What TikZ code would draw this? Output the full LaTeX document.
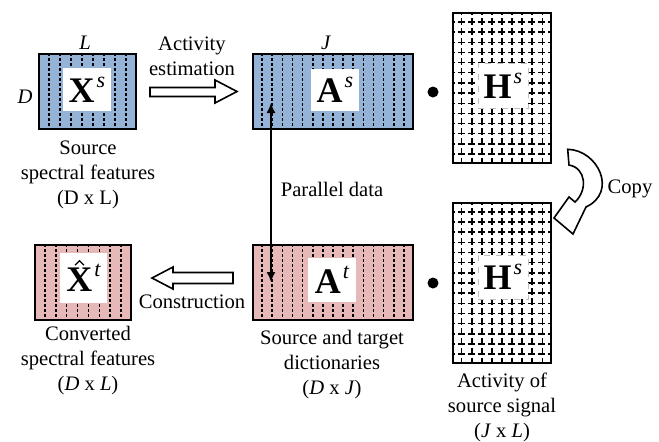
\documentclass[tikz,border=0pt]{standalone}
\usepackage{fontspec}
\setmainfont{Liberation Serif}
\usetikzlibrary{arrows.meta,calc}
\definecolor{srcblue}{HTML}{95B3D7}
\definecolor{tgtpink}{HTML}{E6B9B8}
\newcommand{\matsym}[2]{{\fontsize{18}{18}\selectfont\textbf{#1}\kern1pt\raisebox{0.42em}{\fontsize{11}{11}\selectfont\itshape #2}}}

\begin{document}
\begin{tikzpicture}[x=0.5pt,y=-0.5pt,line width=0.8pt,
  mat/.style={draw,line width=1pt,inner sep=0,minimum height=37.5pt},
  actmat/.style={draw,line width=1.3pt,inner sep=0,minimum width=49pt},
  inbox/.style={fill=white,inner sep=0},
  colline/.style={line width=0.8pt,dash pattern=on 1.5pt off 1pt},
  gridline/.style={line width=0.7pt,dash pattern=on 3.5pt off 1.5pt,dash phase=1.75pt},
  lbl/.style={font=\fontsize{10.3}{12.5}\selectfont,align=center},
  dotop/.style={circle,fill,inner sep=0,minimum size=5.5pt},
  hollow/.style={draw,line width=0.8pt,fill=white,line join=miter}]
  \useasboundingbox (0,0) rectangle (659,441);

  % spectra and dictionaries
  \node[mat,fill=srcblue,minimum width=48.5pt] (Xs) at (87.5,91.5) {};
  \node[mat,fill=srcblue,minimum width=80pt] (As) at (333,91.5) {};
  \node[mat,fill=tgtpink,minimum width=48pt] (Xt) at (83,282.5) {};
  \node[mat,fill=tgtpink,minimum width=80pt] (At) at (333,282.5) {};
  \foreach \m/\n/\d in {Xs/8/9,Xt/8/9,As/15/16,At/15/16}
    \foreach \k in {1,...,\n}
      \draw[colline] ($(\m.north west)!\k/\d!(\m.north east)$) -- ($(\m.south west)!\k/\d!(\m.south east)$);
  \node[inbox,minimum width=24pt,minimum height=21.5pt] (XsIn) at (87,89.5) {\matsym{X}{s}};
  \node[inbox,minimum width=24pt,minimum height=21pt] (AsIn) at (335,90) {\matsym{A}{s}};
  \node[inbox,minimum width=23.5pt,minimum height=25pt] (XtIn) at (83.5,278) {\matsym{X}{t}};
  \draw[line width=0.6pt] ($(XtIn.north)+(-8.5,13)$) -- +(4.5,-4.5) -- +(9,0);
  \node[inbox,minimum width=24pt,minimum height=22pt] (AtIn) at (332,280) {\matsym{A}{t}};

  % activity matrices
  \node[actmat,minimum height=75pt] (Hs) at (502,88) {};
  \node[actmat,minimum height=80pt] (Hc) at (502,283) {};
  \foreach \m/\n/\d in {Hs/14/15,Hc/15/16}{
    \foreach \k in {1,...,\n}
      \draw[gridline] ($(\m.north west)!\k/\d!(\m.south west)$) -- ($(\m.north east)!\k/\d!(\m.south east)$);
    \foreach \k in {1,...,9}
      \draw[gridline] ($(\m.north west)!\k/10!(\m.north east)$) -- ($(\m.south west)!\k/10!(\m.south east)$);
  }
  \node[inbox,draw=black!25,dashed,line width=0.5pt,minimum width=25pt,minimum height=22.5pt] (HsIn) at (503,85.5) {\matsym{H}{s}};
  \node[inbox,draw=black!25,dashed,line width=0.5pt,minimum width=25pt,minimum height=22pt] (HcIn) at (503,277) {\matsym{H}{s}};
  \node[dotop] (dot1) at (433,92) {};
  \node[dotop] (dot2) at (433,283) {};

  % labels
  \node[lbl] (Ltop) at (85,43) {\textit{L}};
  \node[lbl] (Dleft) at (25,97) {\textit{D}};
  \node[lbl] (Jtop) at (326,43) {\textit{J}};
  \node[lbl] (est) at (192,56.5) {Activity\\estimation};
  \node[lbl] (srcl) at (88,175) {Source\\spectral features\\(D x L)};
  \node[lbl] (par) at (332,189) {Parallel data};
  \node[lbl] (cpy) at (630,189) {Copy};
  \node[lbl] (con) at (192,302) {Construction};
  \node[lbl] (cvl) at (88,361) {Converted\\spectral features\\(\textit{D} x \textit{L})};
  \node[lbl] (dicl) at (332,365) {Source and target\\dictionaries\\(\textit{D} x \textit{J})};
  \node[lbl] (actl) at (502,407) {Activity of\\source signal\\(\textit{J} x \textit{L})};

  % arrows
  \draw[hollow] (150,87.5) -- (215,87.5) -- (215,80) -- (237,91.5) -- (215,103) -- (215,96.5) -- (150,96.5) -- cycle;
  \draw[hollow] (233,272.5) -- (173,272.5) -- (173,267) -- (152,278) -- (173,289) -- (173,283.5) -- (233,283.5) -- cycle;
  \draw[hollow] (567.7,149.3) .. controls (598,150) and (618,192) .. (586,207) -- (573,234) -- (554,218)
    -- (569,197) -- (575,202) .. controls (588,190) and (586,168) .. (569,165) -- cycle;
  \coordinate (pdtop) at (271,103);
  \coordinate (pdbot) at (271,282);
  \draw[{Latex[length=5pt,width=4.5pt]}-{Latex[length=5pt,width=4.5pt]},line width=0.75pt] (pdtop) -- (pdbot);
\end{tikzpicture}
\end{document}
